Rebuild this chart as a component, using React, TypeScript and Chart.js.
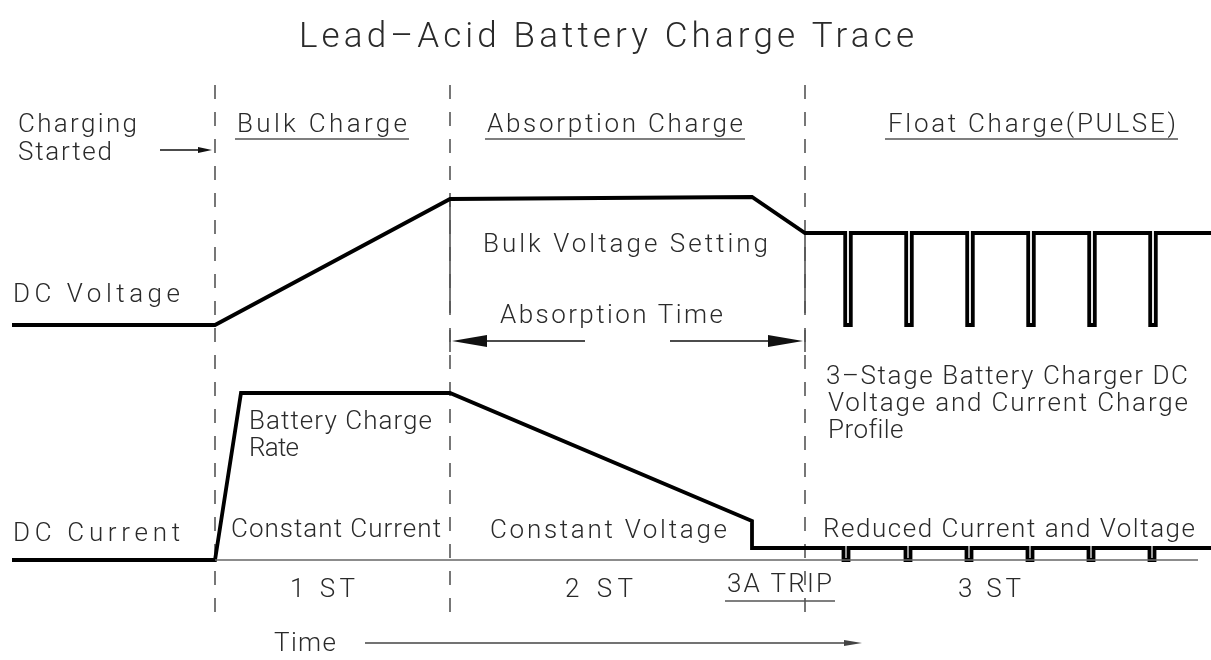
import React, { useEffect, useRef } from "react";
import { Chart, registerables } from "chart.js";

Chart.register(...registerables);

// ---- data (x: time position, y: level on the drawing, top = 0) ----
const voltageX = [12, 215, 450, 752, 805];
const voltageY = [325, 325, 199, 197, 233];
const voltageFloatLevel = 233;
const voltagePulseLow = 325;
const voltageEndX = 1211;
const voltagePulseCenters = [848, 909, 970, 1031, 1092, 1153];

const currentX = [12, 215, 241, 450, 752, 752];
const currentY = [560, 560, 393, 393, 521, 548];
const currentFloatLevel = 548;
const currentPulseLow = 560;
const currentEndX = 1211;
const currentPulseCenters = [846, 908, 969, 1030, 1091, 1152];

const baselineX = [215, 1198];
const baselineY = [560, 560];

const stageBoundaries = [215, 450, 805];

// ---- annotation layout ----
type T = { t: string; x: number; y: number; w: number; s: number };
const texts: T[] = [
  { t: "Lead\u2013Acid Battery Charge Trace", x: 299, y: 47, w: 615, s: 35 },
  { t: "Charging", x: 18, y: 132, w: 119, s: 26 },
  { t: "Started", x: 18, y: 160, w: 94, s: 26 },
  { t: "Bulk Charge", x: 237, y: 132, w: 170, s: 26 },
  { t: "Absorption Charge", x: 487, y: 132, w: 256, s: 26 },
  { t: "Float Charge(PULSE)", x: 888, y: 132, w: 288, s: 26 },
  { t: "DC Voltage", x: 13, y: 302, w: 167, s: 26 },
  { t: "Bulk Voltage Setting", x: 483, y: 252, w: 285, s: 26 },
  { t: "Absorption Time", x: 500, y: 323, w: 223, s: 26 },
  { t: "3\u2013Stage Battery Charger DC", x: 826, y: 384, w: 362, s: 26 },
  { t: "Voltage and Current Charge", x: 828, y: 411, w: 360, s: 26 },
  { t: "Profile", x: 828, y: 438, w: 75, s: 26 },
  { t: "Battery Charge", x: 249, y: 429, w: 183, s: 26 },
  { t: "Rate", x: 249, y: 456, w: 50, s: 26 },
  { t: "DC Current", x: 13, y: 541, w: 167, s: 26 },
  { t: "Constant Current", x: 231, y: 537, w: 210, s: 26 },
  { t: "Constant Voltage", x: 490, y: 538, w: 237, s: 26 },
  { t: "Reduced Current and Voltage", x: 823, y: 537, w: 372, s: 26 },
  { t: "1 ST", x: 290, y: 597, w: 65, s: 26 },
  { t: "2 ST", x: 565, y: 597, w: 68, s: 26 },
  { t: "3A TRIP", x: 727, y: 592, w: 105, s: 26 },
  { t: "3 ST", x: 958, y: 597, w: 63, s: 26 },
  { t: "Time", x: 274, y: 651, w: 62, s: 26 },
];
const underlines = [
  [235, 409, 139],
  [485, 745, 139],
  [885, 1178, 139],
  [725, 835, 601],
];

function buildTrace(xs: number[], ys: number[], centers: number[], hi: number, lo: number, half: number, endX: number) {
  const pts = xs.map((x, i) => ({ x, y: ys[i] }));
  centers.forEach((c) => {
    pts.push({ x: c - half, y: hi }, { x: c - half, y: lo }, { x: c + half, y: lo }, { x: c + half, y: hi });
  });
  pts.push({ x: endX, y: hi });
  return pts;
}

const FONT = (s: number) => `300 ${s}px Roboto, "DejaVu Sans", sans-serif`;

const annotPlugin = {
  id: "annot",
  beforeDatasetsDraw(chart: any) {
    const { ctx } = chart;
    const X = (v: number) => chart.scales.x.getPixelForValue(v);
    const Y = (v: number) => chart.scales.y.getPixelForValue(v);
    ctx.save();
    ctx.strokeStyle = "#555";
    ctx.lineWidth = 1.6;
    ctx.setLineDash([14, 13]);
    stageBoundaries.forEach((b) => {
      ctx.beginPath();
      ctx.moveTo(X(b), Y(85));
      ctx.lineTo(X(b), Y(612));
      ctx.stroke();
    });
    ctx.setLineDash([]);
    // extension lines for absorption time
    [[450, 199], [805, 233]].forEach(([bx, by]) => {
      ctx.beginPath();
      ctx.moveTo(X(bx), Y(by));
      ctx.lineTo(X(bx), Y(313));
      ctx.moveTo(X(bx), Y(330));
      ctx.lineTo(X(bx), Y(352));
      ctx.stroke();
    });
    ctx.restore();
  },
  afterDatasetsDraw(chart: any) {
    const { ctx } = chart;
    const X = (v: number) => chart.scales.x.getPixelForValue(v);
    const Y = (v: number) => chart.scales.y.getPixelForValue(v);
    ctx.save();
    ctx.fillStyle = "#2a2a2a";
    ctx.textBaseline = "alphabetic";
    texts.forEach((o) => {
      ctx.font = FONT(o.s);
      (ctx as any).letterSpacing = "0px";
      const nat = ctx.measureText(o.t).width;
      const n = [...o.t].length;
      const ls = n > 1 ? (o.w - nat) / (n - 1) : 0;
      (ctx as any).letterSpacing = `${ls}px`;
      ctx.fillText(o.t, X(o.x), Y(o.y));
    });
    (ctx as any).letterSpacing = "0px";
    ctx.strokeStyle = "#555";
    ctx.lineWidth = 1.6;
    underlines.forEach(([a, b, yy]) => {
      ctx.beginPath();
      ctx.moveTo(X(a), Y(yy));
      ctx.lineTo(X(b), Y(yy));
      ctx.stroke();
    });
    const arrow = (x0: number, x1: number, yy: number, headLen: number, half: number, color: string, lw: number) => {
      const dir = Math.sign(x1 - x0);
      ctx.strokeStyle = color;
      ctx.fillStyle = color;
      ctx.lineWidth = lw;
      ctx.beginPath();
      ctx.moveTo(X(x0), Y(yy));
      ctx.lineTo(X(x1 - dir * headLen), Y(yy));
      ctx.stroke();
      ctx.beginPath();
      ctx.moveTo(X(x1), Y(yy));
      ctx.lineTo(X(x1 - dir * headLen), Y(yy) - half);
      ctx.lineTo(X(x1 - dir * headLen), Y(yy) + half);
      ctx.closePath();
      ctx.fill();
    };
    arrow(160, 212, 150, 14, 3, "#111", 1.6);
    arrow(585, 452, 341, 35, 6, "#111", 1.6);
    arrow(670, 803, 341, 35, 6, "#111", 1.6);
    arrow(365, 862, 643, 18, 3, "#444", 1.6);
    ctx.restore();
  },
};

export default function App() {
  const ref = useRef<HTMLCanvasElement>(null);
  useEffect(() => {
    document.body.style.margin = "0";
    const voltage = buildTrace(voltageX, voltageY, voltagePulseCenters, voltageFloatLevel, voltagePulseLow, 2.8, voltageEndX);
    const current = buildTrace(currentX, currentY, currentPulseCenters, currentFloatLevel, currentPulseLow, 2.5, currentEndX);
    const baseline = baselineX.map((x, i) => ({ x, y: baselineY[i] }));
    const chart = new Chart(ref.current!, {
      type: "scatter",
      data: {
        datasets: [
          { data: baseline, showLine: true, borderColor: "#666", borderWidth: 1.6, pointRadius: 0 },
          { data: voltage, showLine: true, borderColor: "#000", borderWidth: 3.8, pointRadius: 0, borderJoinStyle: "miter", tension: 0 },
          { data: current, showLine: true, borderColor: "#000", borderWidth: 3.8, pointRadius: 0, borderJoinStyle: "miter", tension: 0 },
        ],
      },
      options: {
        animation: false,
        responsive: false,
        devicePixelRatio: 1,
        layout: { padding: 0 },
        plugins: { legend: { display: false }, tooltip: { enabled: false } },
        scales: {
          x: { type: "linear", min: 0, max: 1211, display: false },
          y: { type: "linear", min: 0, max: 660, reverse: true, display: false },
        },
      },
      plugins: [annotPlugin],
    });
    return () => chart.destroy();
  }, []);
  return <canvas ref={ref} width={1211} height={660} style={{ display: "block", background: "#fff" }} />;
}
